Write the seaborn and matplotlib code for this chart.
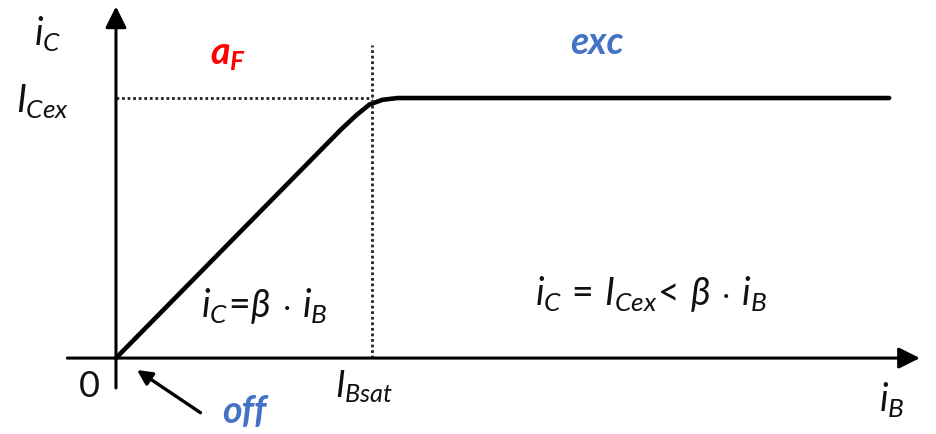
import matplotlib
matplotlib.use("Agg")
import matplotlib.pyplot as plt
import seaborn as sns
import pandas as pd

# Characteristic curve i_C(i_B), normalised: I_Bsat = 1, I_Cex = 1
ib = [0.0, 0.88, 0.94, 0.99, 1.04, 1.10, 1.16, 3.02]
ic = [0.0, 0.88, 0.935, 0.975, 0.993, 1.0, 1.0, 1.0]
I_BSAT = 1.0
I_CEX = 1.0

sns.set_style("white")
plt.rcParams["font.family"] = ["Lato", "DejaVu Sans"]
plt.rcParams["mathtext.fontset"] = "custom"
plt.rcParams["mathtext.rm"] = "Lato"
plt.rcParams["mathtext.it"] = "Lato:italic"
plt.rcParams["mathtext.bf"] = "Lato:bold:italic"

fig = plt.figure(figsize=(9.37, 4.34), dpi=100)
ax = fig.add_axes([0, 0, 1, 1])
ax.set_xlim(-0.453, 3.207)
ax.set_ylim(-0.292, 1.377)
for s in ax.spines.values():
    s.set_visible(False)
ax.set_xticks([]); ax.set_yticks([])

df = pd.DataFrame({"ib": ib, "ic": ic})
sns.lineplot(data=df, x="ib", y="ic", ax=ax, color="black", lw=3.3,
             sort=False, solid_capstyle="round", solid_joinstyle="round")

# axes arrows
arr = dict(arrowstyle="-|>", lw=2.2, color="black", mutation_scale=32,
           shrinkA=0, shrinkB=0)
ax.annotate("", xy=(3.14, 0), xytext=(-0.19, 0), arrowprops=arr)
ax.annotate("", xy=(0, 1.352), xytext=(0, -0.115), arrowprops=arr)

# dotted guides
ax.plot([0, I_BSAT], [I_CEX, I_CEX], color="#222222", lw=2.0, ls=(0, (1, 1)))
ax.plot([I_BSAT, I_BSAT], [0, 1.205], color="#222222", lw=2.0, ls=(0, (1, 1)))

fs = 27
txt = "#111111"
ax.text(-0.265, 1.25, r"$i_C$", fontsize=fs, ha="center", va="center", color=txt)
ax.text(-0.285, 0.99, r"$I_{Cex}$", fontsize=fs, ha="center", va="center", color=txt)
ax.text(0.44, 1.17, r"$\mathbf{a}_{\mathbf{F}}$", fontsize=fs, ha="center",
        va="center", color="#FF0000")
ax.text(1.88, 1.215, "exc", fontsize=fs, ha="center", va="center",
        color="#4472C4", fontweight="bold", fontstyle="italic")
ax.text(0.58, 0.2, r"$i_C\!=\!\beta\,\cdot\,i_B$", fontsize=fs, ha="center",
        va="center", color=txt)
ax.text(2.09, 0.245, r"$i_C\,=\,I_{Cex}\!<\,\beta\,\cdot\,i_B$", fontsize=fs,
        ha="center", va="center", color=txt)
ax.text(-0.105, -0.11, "0", fontsize=fs - 1, ha="center", va="center", color=txt)
ax.text(0.97, -0.11, r"$I_{Bsat}$", fontsize=fs - 1, ha="center", va="center", color=txt)
ax.text(3.03, -0.16, r"$i_B$", fontsize=fs, ha="center", va="center", color=txt)
ax.text(0.50, -0.205, "off", fontsize=fs, ha="center", va="center",
        color="#4472C4", fontweight="bold", fontstyle="italic")
ax.annotate("", xy=(0.082, -0.046), xytext=(0.33, -0.21),
            arrowprops=dict(arrowstyle="-|>", lw=2.4, color="black",
                            mutation_scale=22, shrinkA=0, shrinkB=0))

fig.savefig("out.png", dpi=100)
